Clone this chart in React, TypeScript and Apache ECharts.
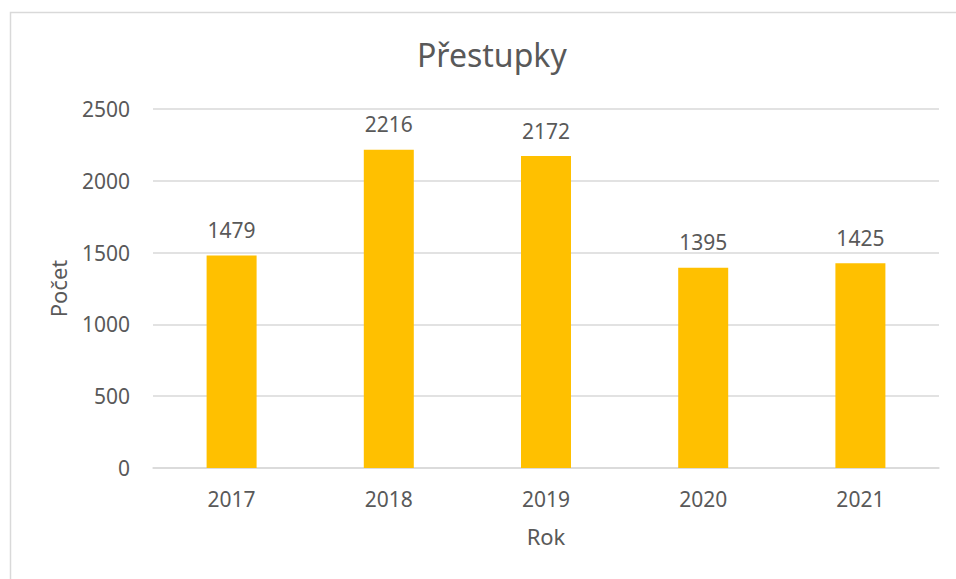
import React, { useEffect, useRef } from "react";
import * as echarts from "echarts";

const categories = ["2017", "2018", "2019", "2020", "2021"];
const values = [1479, 2216, 2172, 1395, 1425];
const titleText = "Přestupky";
const yName = "Počet";
const xName = "Rok";

const FONT = "'Noto Sans', 'Open Sans', sans-serif";
const TXT = "#595959";

export default function App() {
  const ref = useRef<HTMLDivElement>(null);
  useEffect(() => {
    if (!ref.current) return;
    const chart = echarts.init(ref.current, null, { renderer: "svg" });
    chart.setOption({
      animation: false,
      backgroundColor: "#ffffff",
      textStyle: { fontFamily: FONT },
      title: {
        text: titleText,
        left: 412,
        top: 33,
        textStyle: { fontFamily: FONT, fontSize: 32, fontWeight: "normal", color: TXT },
      },
      graphic: [
        {
          type: "rect",
          left: 8,
          top: 10,
          shape: { x: 0, y: 0, width: 1200, height: 1000 },
          style: { fill: "none", stroke: "#D9D9D9", lineWidth: 1.5 },
          silent: true,
          z: -1,
        },
      ],
      grid: { left: 153, right: 17, top: 109, bottom: 111 },
      xAxis: {
        type: "category",
        data: categories,
        name: xName,
        nameLocation: "middle",
        nameGap: 57,
        nameTextStyle: { fontFamily: FONT, fontSize: 22, color: TXT },
        axisLine: { show: true, lineStyle: { color: "#D9D9D9", width: 1.5 } },
        axisTick: { show: false },
        axisLabel: { fontFamily: FONT, fontSize: 21, color: TXT, margin: 20 },
      },
      yAxis: {
        type: "value",
        min: 0,
        max: 2500,
        interval: 500,
        name: yName,
        nameLocation: "middle",
        nameGap: 84,
        nameTextStyle: { fontFamily: FONT, fontSize: 22, color: TXT },
        axisLine: { show: false },
        axisTick: { show: false },
        axisLabel: {
          fontFamily: FONT,
          fontSize: 21,
          color: TXT,
          margin: 23,
          formatter: (v: number) => String(v),
        },
        splitLine: { lineStyle: { color: "#D9D9D9", width: 1.5 } },
      },
      series: [
        {
          type: "bar",
          data: values,
          barWidth: 50,
          itemStyle: { color: "#FFC000" },
          label: {
            show: true,
            position: "top",
            distance: 15,
            fontFamily: FONT,
            fontSize: 21,
            color: TXT,
          },
        },
      ],
    });
    return () => chart.dispose();
  }, []);
  return (
    <div
      ref={ref}
      style={{ position: "fixed", left: 0, top: 0, width: 956, height: 579 }}
    />
  );
}
